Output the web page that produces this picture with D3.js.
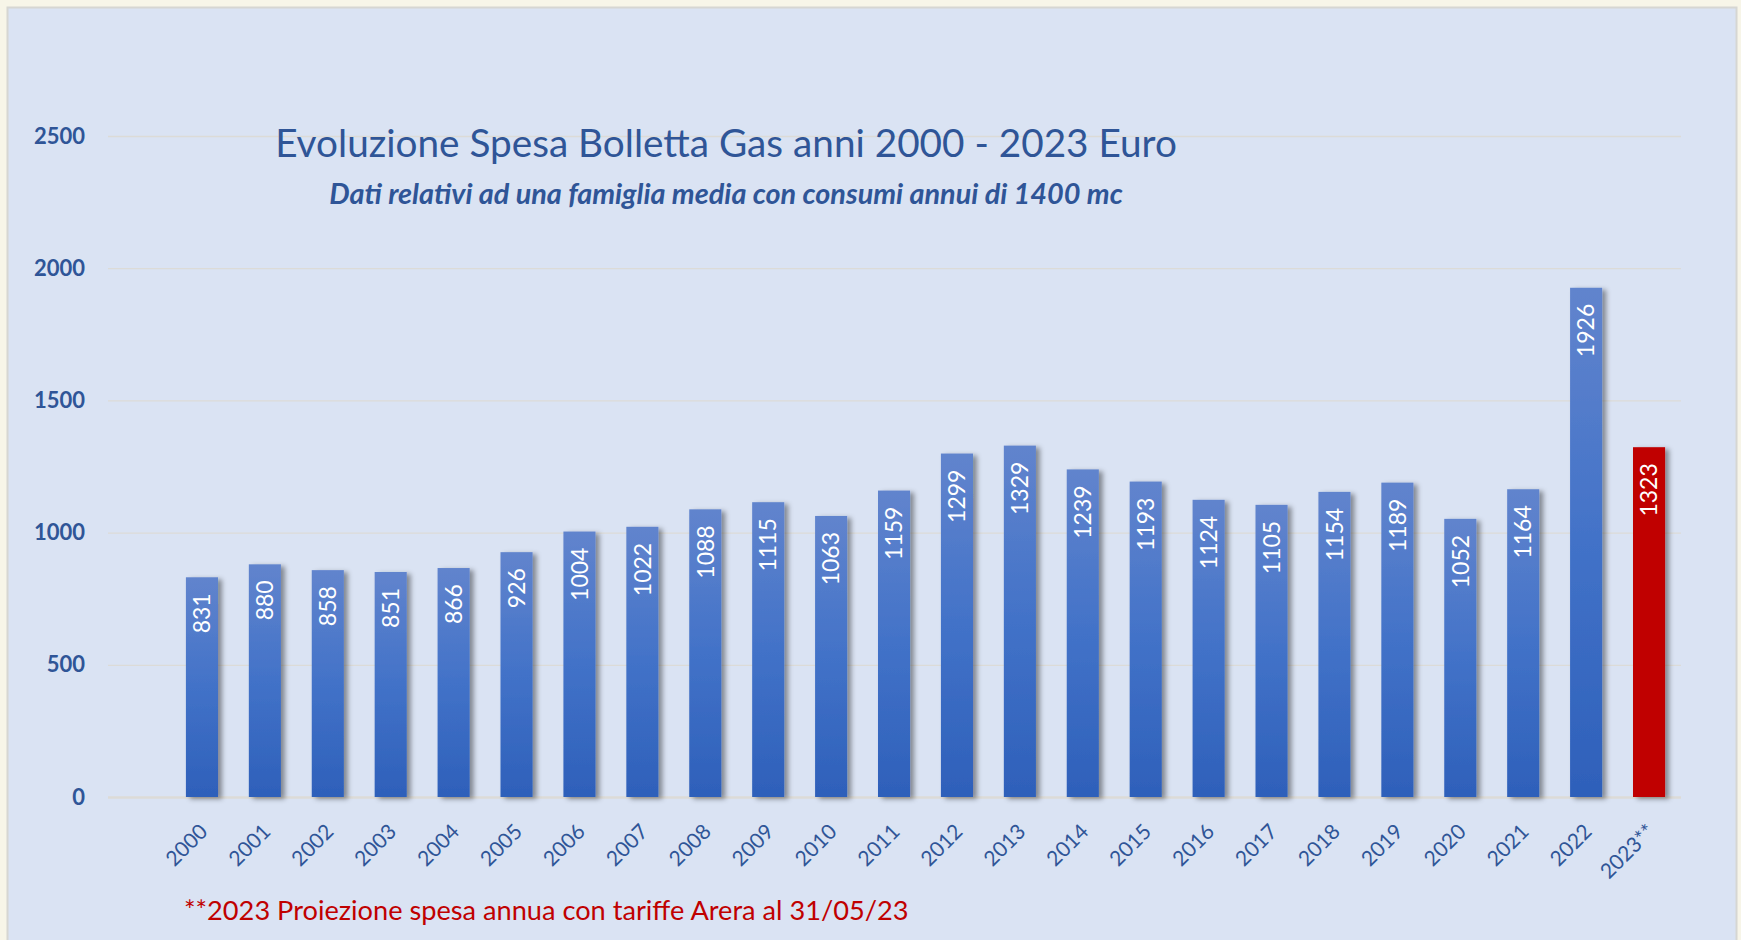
<!DOCTYPE html>
<html>
<head>
<meta charset="utf-8">
<script src="https://cdn.jsdelivr.net/npm/d3@7"></script>
<style>
  body { margin: 0; background: #f7f5e8; }
  svg { display: block; font-family: Lato, "Open Sans", sans-serif; }
</style>
</head>
<body>
<div id="chart"></div>
<script>
// data
var years = ["2000","2001","2002","2003","2004","2005","2006","2007","2008","2009","2010","2011",
  "2012","2013","2014","2015","2016","2017","2018","2019","2020","2021","2022","2023**"];
var spesa = [831,880,858,851,866,926,1004,1022,1088,1115,1063,1159,
  1299,1329,1239,1193,1124,1105,1154,1189,1052,1164,1926,1323];
var yTicks = [0,500,1000,1500,2000,2500];
var titolo = "Evoluzione Spesa Bolletta Gas anni 2000 - 2023 Euro";
var sottotitolo = "Dati relativi ad una famiglia media con consumi annui di 1400 mc";
var nota = "**2023 Proiezione spesa annua con tariffe Arera al 31/05/23";

var W = 1741, H = 940;
var blu = "#2f5597", rosso = "#c00000";

var svg = d3.select("#chart").append("svg").attr("width", W).attr("height", H);

var defs = svg.append("defs");
var grad = defs.append("linearGradient").attr("id", "barGrad")
  .attr("x1", 0).attr("y1", 0).attr("x2", 0).attr("y2", 1);
grad.append("stop").attr("offset", "0%").attr("stop-color", "#6184cd");
grad.append("stop").attr("offset", "50%").attr("stop-color", "#4272c8");
grad.append("stop").attr("offset", "100%").attr("stop-color", "#2e60ba");

var shadow = defs.append("filter").attr("id", "ombra")
  .attr("x", "-30%").attr("y", "-10%").attr("width", "170%").attr("height", "120%");
shadow.append("feDropShadow").attr("dx", 4).attr("dy", 2).attr("stdDeviation", 2.5)
  .attr("flood-color", "#000").attr("flood-opacity", 0.4);

// plot panel
svg.append("rect").attr("x", 7.5).attr("y", 7.5).attr("width", 1729).attr("height", H)
  .attr("fill", "#dae3f3").attr("stroke", "#d6d6d2").attr("stroke-width", 2);

var x = d3.scaleBand().domain(years).range([170.5, 1680.5])
  .paddingInner(0.49).paddingOuter(0.245);
var y = d3.scaleLinear().domain([0, 2500]).range([797, 136]);

// y axis + gridlines
var gx0 = 108, gx1 = 1681;
var yAxis = svg.append("g").attr("transform", "translate(" + gx0 + ",0)")
  .call(d3.axisLeft(y).tickValues(yTicks).tickFormat(d3.format("d"))
    .tickSize(-(gx1 - gx0)).tickPadding(23));
yAxis.select(".domain").remove();
yAxis.selectAll(".tick line")
  .attr("stroke", "#dcdbd7")
  .attr("stroke-width", function(d){ return d == 0 ? 2.5 : 1.3; });
yAxis.selectAll(".tick text")
  .attr("fill", blu).attr("font-size", 22).attr("font-weight", "bold")
  .attr("font-family", "Lato, sans-serif");

// bars
var bars = svg.append("g").selectAll("rect.bar").data(years)
  .enter().append("rect").attr("class", "bar")
  .attr("x", function(d){ return x(d); })
  .attr("width", x.bandwidth())
  .attr("y", function(d, i){ return y(spesa[i]); })
  .attr("height", function(d, i){ return y(0) - y(spesa[i]); })
  .attr("fill", function(d){ return d.indexOf("**") > 0 ? rosso : "url(#barGrad)"; })
  .attr("filter", "url(#ombra)");

// value labels inside the bars
svg.append("g").selectAll("text.val").data(years)
  .enter().append("text").attr("class", "val")
  .attr("transform", function(d, i){
    var cx = x(d) + x.bandwidth() / 2;
    return "translate(" + cx + "," + (y(spesa[i]) + 16) + ") rotate(-90)"; })
  .attr("text-anchor", "end").attr("dy", "0.36em")
  .attr("fill", "#fff").attr("font-size", 23)
  .text(function(d, i){ return spesa[i]; });

// x axis labels
var xAxis = svg.append("g").attr("transform", "translate(0,797)")
  .call(d3.axisBottom(x).tickSize(0).tickPadding(0));
xAxis.select(".domain").remove();
xAxis.selectAll(".tick text")
  .attr("y", 0).attr("dy", 0)
  .attr("transform", "translate(7,36) rotate(-45)")
  .attr("text-anchor", "end")
  .attr("fill", blu).attr("font-size", 21)
  .attr("font-family", "Lato, sans-serif");

// titles, fitted to the width they take in the picture
function fitText(sel, w) {
  var fs = parseFloat(sel.attr("font-size"));
  var len = sel.node().getComputedTextLength();
  sel.attr("font-size", fs * w / len);
}

var t1 = svg.append("text").attr("x", 726).attr("y", 157)
  .attr("text-anchor", "middle").attr("fill", blu)
  .attr("font-size", 36).attr("font-weight", 400).text(titolo);
fitText(t1, 902);

var t2 = svg.append("text").attr("x", 726).attr("y", 204)
  .attr("text-anchor", "middle").attr("fill", blu)
  .attr("font-size", 24).attr("font-weight", "bold").attr("font-style", "italic")
  .text(sottotitolo);
fitText(t2, 794);

var t3 = svg.append("text").attr("x", 184).attr("y", 920)
  .attr("fill", rosso).attr("font-size", 24).text(nota);
fitText(t3, 725);
</script>
</body>
</html>
